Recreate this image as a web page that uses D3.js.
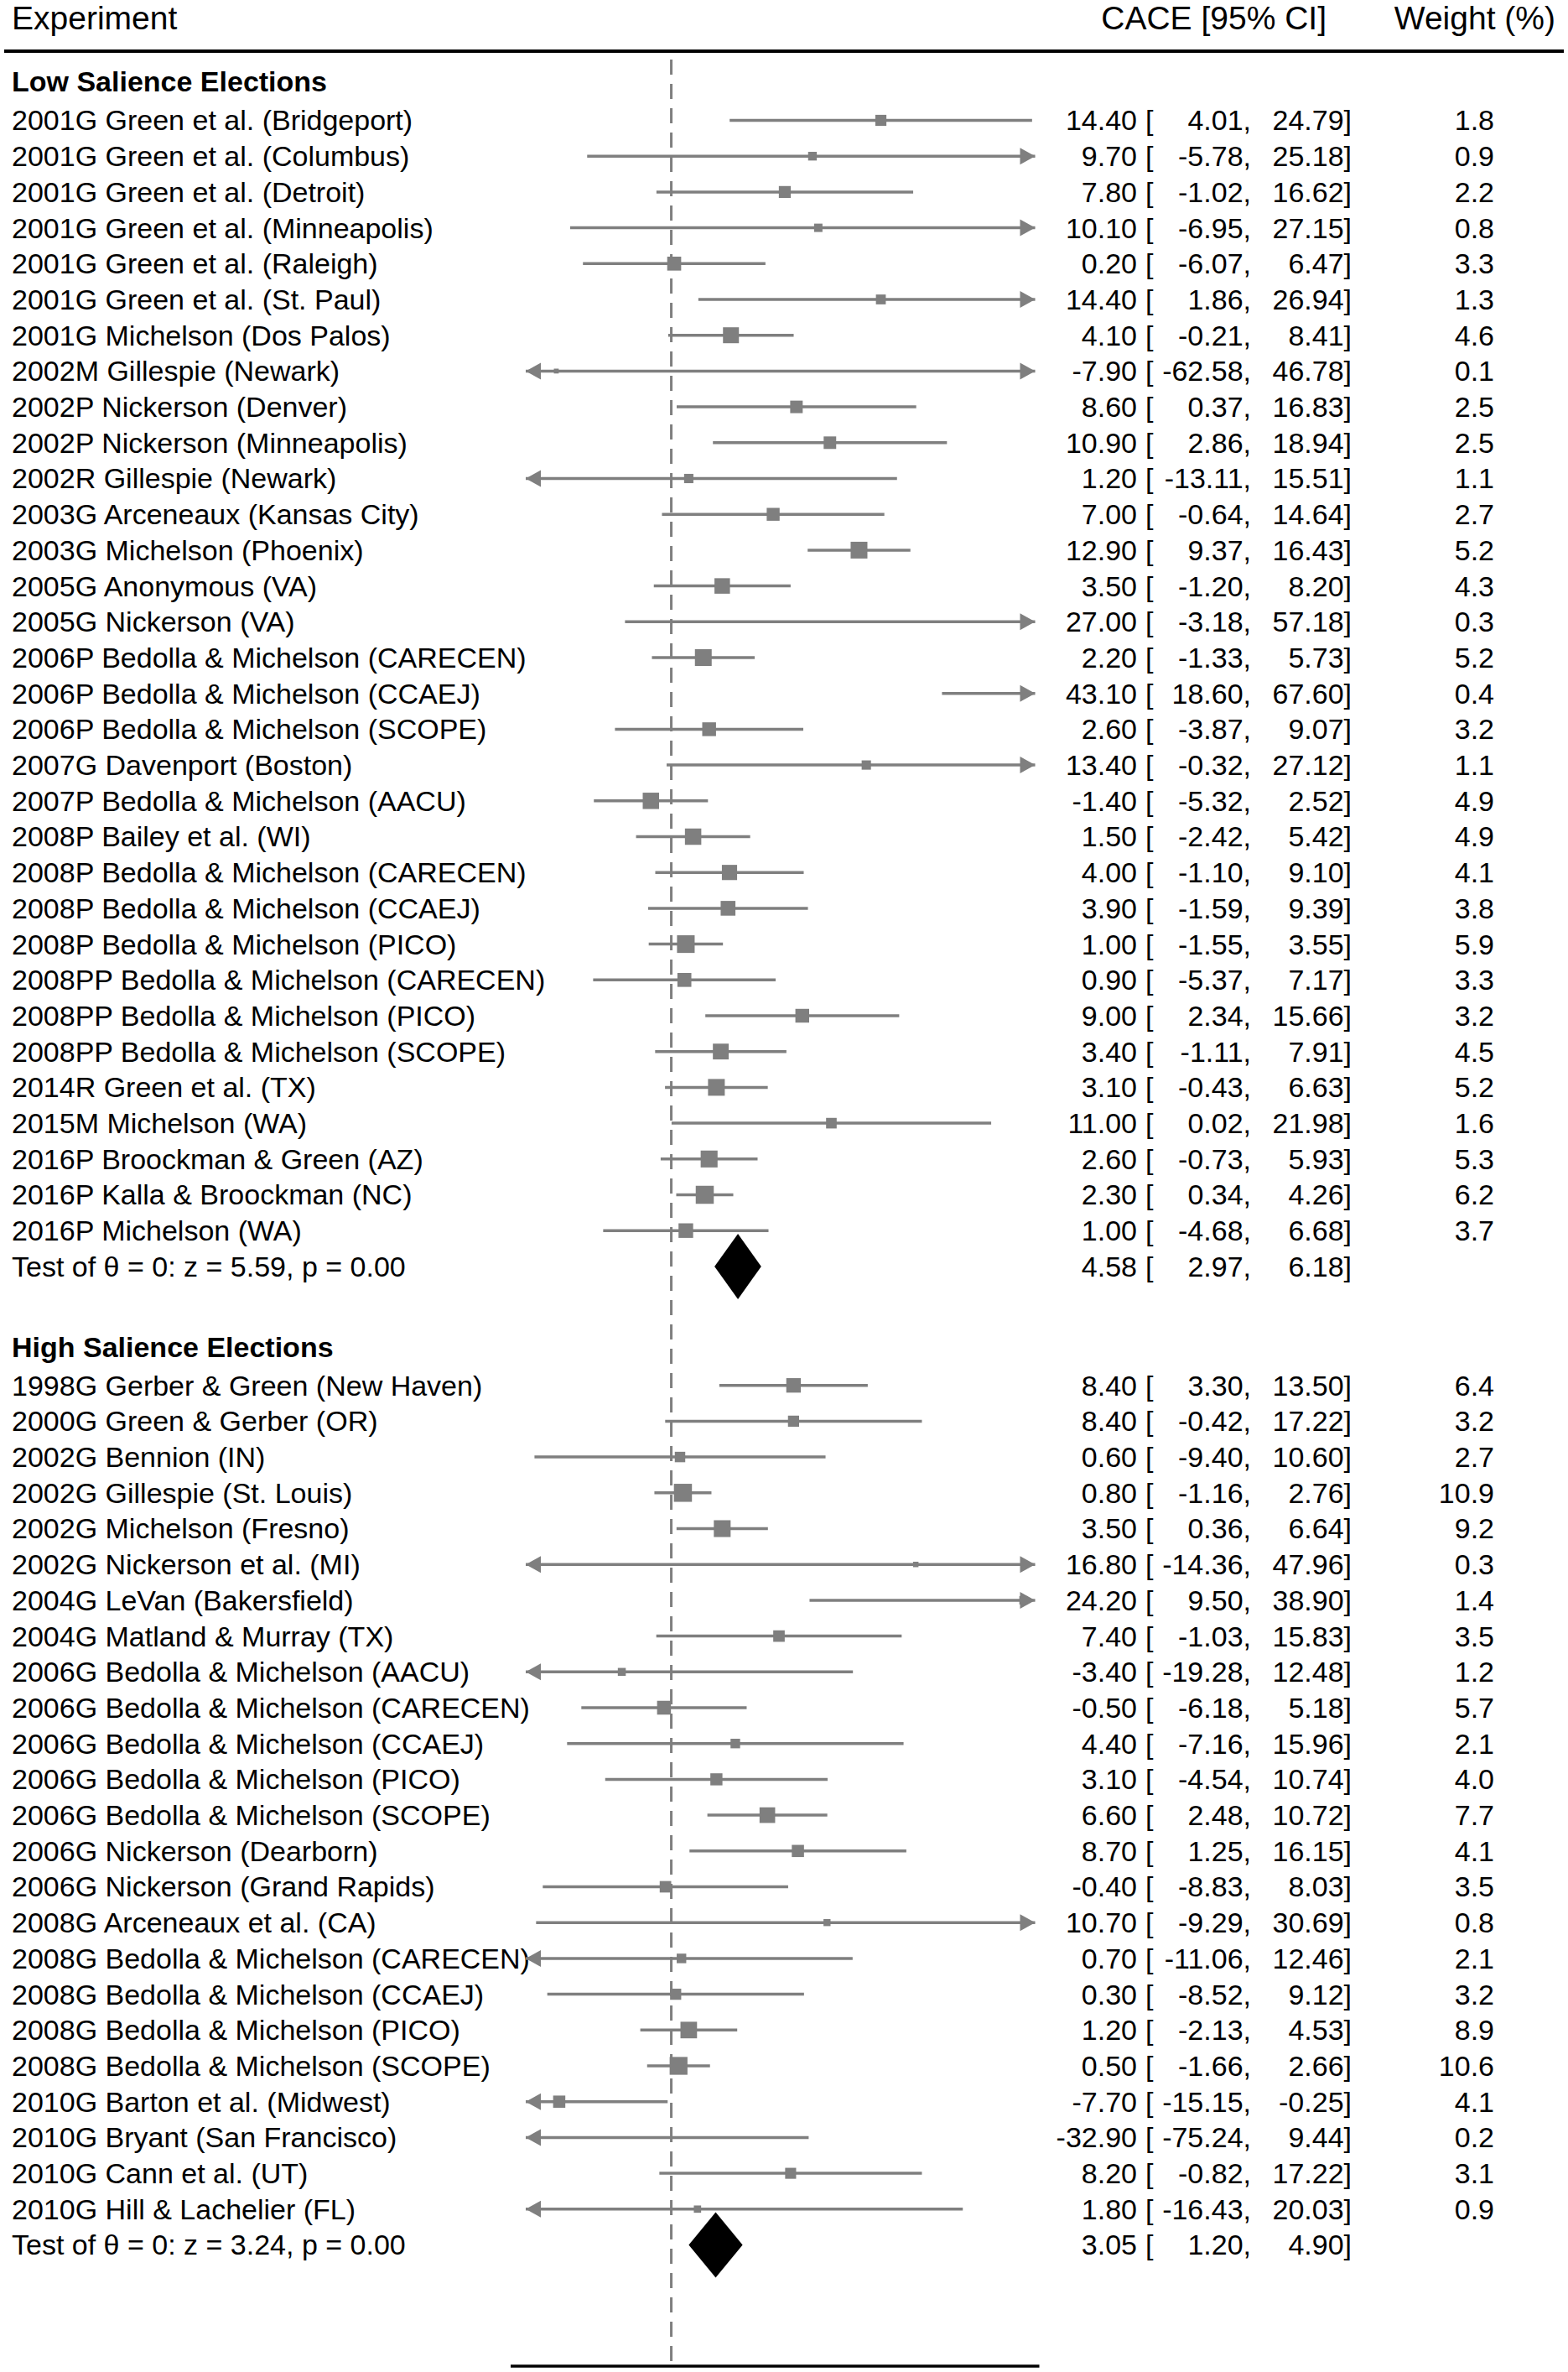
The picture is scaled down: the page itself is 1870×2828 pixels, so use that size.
<!DOCTYPE html>
<html>
<head>
<meta charset="utf-8">
<style>
  body { margin: 0; background: #fff; }
  svg text { font-family: "Liberation Sans", Arial, Helvetica, sans-serif; fill: #000; }
</style>
</head>
<body>
<svg id="chart" width="1870" height="2828"></svg>
<script src="https://cdn.jsdelivr.net/npm/d3@7"></script>
<script>
// ---- data ----
const lowLabels = [
  "2001G Green et al. (Bridgeport)", "2001G Green et al. (Columbus)", "2001G Green et al. (Detroit)",
  "2001G Green et al. (Minneapolis)", "2001G Green et al. (Raleigh)", "2001G Green et al. (St. Paul)",
  "2001G Michelson (Dos Palos)", "2002M Gillespie (Newark)", "2002P Nickerson (Denver)",
  "2002P Nickerson (Minneapolis)", "2002R Gillespie (Newark)", "2003G Arceneaux (Kansas City)",
  "2003G Michelson (Phoenix)", "2005G Anonymous (VA)", "2005G Nickerson (VA)",
  "2006P Bedolla & Michelson (CARECEN)", "2006P Bedolla & Michelson (CCAEJ)", "2006P Bedolla & Michelson (SCOPE)",
  "2007G Davenport (Boston)", "2007P Bedolla & Michelson (AACU)", "2008P Bailey et al. (WI)",
  "2008P Bedolla & Michelson (CARECEN)", "2008P Bedolla & Michelson (CCAEJ)", "2008P Bedolla & Michelson (PICO)",
  "2008PP Bedolla & Michelson (CARECEN)", "2008PP Bedolla & Michelson (PICO)", "2008PP Bedolla & Michelson (SCOPE)",
  "2014R Green et al. (TX)", "2015M Michelson (WA)", "2016P Broockman & Green (AZ)",
  "2016P Kalla & Broockman (NC)", "2016P Michelson (WA)"
]
const lowEst = [14.40, 9.70, 7.80, 10.10, 0.20, 14.40, 4.10, -7.90, 8.60, 10.90, 1.20, 7.00, 12.90, 3.50, 27.00,
  2.20, 43.10, 2.60, 13.40, -1.40, 1.50, 4.00, 3.90, 1.00, 0.90, 9.00, 3.40, 3.10, 11.00, 2.60, 2.30, 1.00]
const lowLo = [4.01, -5.78, -1.02, -6.95, -6.07, 1.86, -0.21, -62.58, 0.37, 2.86, -13.11, -0.64, 9.37, -1.20, -3.18,
  -1.33, 18.60, -3.87, -0.32, -5.32, -2.42, -1.10, -1.59, -1.55, -5.37, 2.34, -1.11, -0.43, 0.02, -0.73, 0.34, -4.68]
const lowHi = [24.79, 25.18, 16.62, 27.15, 6.47, 26.94, 8.41, 46.78, 16.83, 18.94, 15.51, 14.64, 16.43, 8.20, 57.18,
  5.73, 67.60, 9.07, 27.12, 2.52, 5.42, 9.10, 9.39, 3.55, 7.17, 15.66, 7.91, 6.63, 21.98, 5.93, 4.26, 6.68]
const lowWeight = [1.8, 0.9, 2.2, 0.8, 3.3, 1.3, 4.6, 0.1, 2.5, 2.5, 1.1, 2.7, 5.2, 4.3, 0.3,
  5.2, 0.4, 3.2, 1.1, 4.9, 4.9, 4.1, 3.8, 5.9, 3.3, 3.2, 4.5, 5.2, 1.6, 5.3, 6.2, 3.7]
const lowSummary = [4.58, 2.97, 6.18]
const lowTest = "Test of θ = 0: z = 5.59, p = 0.00"

const highLabels = [
  "1998G Gerber & Green (New Haven)", "2000G Green & Gerber (OR)", "2002G Bennion (IN)",
  "2002G Gillespie (St. Louis)", "2002G Michelson (Fresno)", "2002G Nickerson et al. (MI)",
  "2004G LeVan (Bakersfield)", "2004G Matland & Murray (TX)", "2006G Bedolla & Michelson (AACU)",
  "2006G Bedolla & Michelson (CARECEN)", "2006G Bedolla & Michelson (CCAEJ)", "2006G Bedolla & Michelson (PICO)",
  "2006G Bedolla & Michelson (SCOPE)", "2006G Nickerson (Dearborn)", "2006G Nickerson (Grand Rapids)",
  "2008G Arceneaux et al. (CA)", "2008G Bedolla & Michelson (CARECEN)", "2008G Bedolla & Michelson (CCAEJ)",
  "2008G Bedolla & Michelson (PICO)", "2008G Bedolla & Michelson (SCOPE)", "2010G Barton et al. (Midwest)",
  "2010G Bryant (San Francisco)", "2010G Cann et al. (UT)", "2010G Hill & Lachelier (FL)"
]
const highEst = [8.40, 8.40, 0.60, 0.80, 3.50, 16.80, 24.20, 7.40, -3.40, -0.50, 4.40, 3.10,
  6.60, 8.70, -0.40, 10.70, 0.70, 0.30, 1.20, 0.50, -7.70, -32.90, 8.20, 1.80]
const highLo = [3.30, -0.42, -9.40, -1.16, 0.36, -14.36, 9.50, -1.03, -19.28, -6.18, -7.16, -4.54,
  2.48, 1.25, -8.83, -9.29, -11.06, -8.52, -2.13, -1.66, -15.15, -75.24, -0.82, -16.43]
const highHi = [13.50, 17.22, 10.60, 2.76, 6.64, 47.96, 38.90, 15.83, 12.48, 5.18, 15.96, 10.74,
  10.72, 16.15, 8.03, 30.69, 12.46, 9.12, 4.53, 2.66, -0.25, 9.44, 17.22, 20.03]
const highWeight = [6.4, 3.2, 2.7, 10.9, 9.2, 0.3, 1.4, 3.5, 1.2, 5.7, 2.1, 4.0,
  7.7, 4.1, 3.5, 0.8, 2.1, 3.2, 8.9, 10.6, 4.1, 0.2, 3.1, 0.9]
const highSummary = [3.05, 1.20, 4.90]
const highTest = "Test of θ = 0: z = 3.24, p = 0.00"

const xDomain = [-10, 25]

// ---- layout ----
const svg = d3.select("#chart")
const rowH = 42.7
const x = d3.scaleLinear().domain(xDomain).range([627, 1234.5])
const grey = "#7f7f7f"
// plain hyphen as minus sign, like the original table
const loc = d3.formatLocale({ decimal: ".", thousands: ",", grouping: [3], currency: ["", ""], minus: "-" })
const fmt = loc.format(".2f")
const fmtW = loc.format(".1f")
const col = { est: 1356, brk: 1366, lo: 1492, hi: 1612, wt: 1782 }

// header
svg.append("text").attr("x", 14).attr("y", 35).attr("font-size", 39).text("Experiment")
svg.append("text").attr("x", 1582).attr("y", 35).attr("font-size", 39).attr("text-anchor", "end").text("CACE [95% CI]")
svg.append("text").attr("x", 1855).attr("y", 35).attr("font-size", 39).attr("text-anchor", "end").text("Weight (%)")
svg.append("line").attr("x1", 5).attr("x2", 1865).attr("y1", 61).attr("y2", 61)
  .attr("stroke", "#000").attr("stroke-width", 4)

// reference line at zero and bottom axis line
svg.append("line").attr("x1", x(0)).attr("x2", x(0)).attr("y1", 71).attr("y2", 2821)
  .attr("stroke", grey).attr("stroke-width", 3).attr("stroke-dasharray", "18,11")
svg.append("line").attr("x1", x.range()[0] - 18).attr("x2", x.range()[1] + 5).attr("y1", 2821).attr("y2", 2821)
  .attr("stroke", "#000").attr("stroke-width", 3.5)

function numCols(g, y, est, lo, hi, w) {
  g.append("text").attr("x", col.est).attr("y", y).attr("dy", "0.35em").attr("text-anchor", "end").text(fmt(est))
  g.append("text").attr("x", col.brk).attr("y", y).attr("dy", "0.35em").text("[")
  g.append("text").attr("x", col.lo).attr("y", y).attr("dy", "0.35em").attr("text-anchor", "end").text(fmt(lo) + ",")
  g.append("text").attr("x", col.hi).attr("y", y).attr("dy", "0.35em").attr("text-anchor", "end").text(fmt(hi) + "]")
  if (w != null)
    g.append("text").attr("x", col.wt).attr("y", y).attr("dy", "0.35em").attr("text-anchor", "end").text(fmtW(w))
}

function drawSection(title, labels, est, lo, hi, weight, summary, test, top) {
  const g = svg.append("g").attr("font-size", 34)
  const rows = labels.map((l, i) => ({ label: l, est: est[i], lo: lo[i], hi: hi[i], w: weight[i], y: top + i * rowH }))
  const size = d3.scaleSqrt().domain([0, d3.max(weight)]).range([3.5, 21.5])

  g.append("text").attr("x", 14).attr("y", top - 46).attr("dy", "0.35em")
    .attr("font-weight", "bold").text(title)

  rows.forEach(d => {
    g.append("text").attr("x", 14).attr("y", d.y).attr("dy", "0.35em").text(d.label)
    numCols(g, d.y, d.est, d.lo, d.hi, d.w)

    const a = Math.max(d.lo, xDomain[0]), b = Math.min(d.hi, xDomain[1])
    g.append("line").attr("x1", x(a)).attr("x2", x(b)).attr("y1", d.y).attr("y2", d.y)
      .attr("stroke", grey).attr("stroke-width", 3.5)
    if (d.lo < xDomain[0]) {
      const t = x(xDomain[0])
      g.append("path").attr("d", `M${t},${d.y}L${t + 18},${d.y - 10}L${t + 18},${d.y + 10}Z`).attr("fill", grey)
    }
    if (d.hi > xDomain[1]) {
      const t = x(xDomain[1])
      g.append("path").attr("d", `M${t},${d.y}L${t - 18},${d.y - 10}L${t - 18},${d.y + 10}Z`).attr("fill", grey)
    }
    if (d.est >= xDomain[0] && d.est <= xDomain[1]) {
      const s = size(d.w)
      g.append("rect").attr("x", x(d.est) - s / 2).attr("y", d.y - s / 2)
        .attr("width", s).attr("height", s).attr("fill", grey)
    }
  })

  const ys = top + rows.length * rowH
  g.append("text").attr("x", 14).attr("y", ys).attr("dy", "0.35em").text(test)
  numCols(g, ys, summary[0], summary[1], summary[2], null)
  g.append("path")
    .attr("d", `M${x(summary[1])},${ys}L${x(summary[0])},${ys - 39}L${x(summary[2])},${ys}L${x(summary[0])},${ys + 39}Z`)
    .attr("fill", "#000")
}

drawSection("Low Salience Elections", lowLabels, lowEst, lowLo, lowHi, lowWeight, lowSummary, lowTest, 143.5)
drawSection("High Salience Elections", highLabels, highEst, highLo, highHi, highWeight, highSummary, highTest, 1651.7)
</script>
</body>
</html>
